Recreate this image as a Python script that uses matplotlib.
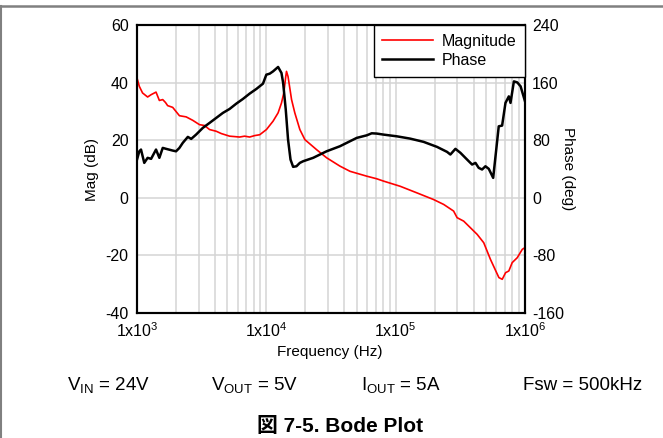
import matplotlib
matplotlib.use("Agg")
import matplotlib.pyplot as plt
from matplotlib.lines import Line2D
from matplotlib.ticker import NullFormatter, LogLocator

plt.rcParams['font.family'] = ['Liberation Sans', 'Noto Sans CJK JP', 'DejaVu Sans']
plt.rcParams['mathtext.fontset'] = 'custom'
plt.rcParams['mathtext.rm'] = 'Liberation Sans'
plt.rcParams['mathtext.it'] = 'Liberation Sans:italic'
plt.rcParams['mathtext.bf'] = 'Liberation Sans:bold'
plt.rcParams['axes.unicode_minus'] = False

# Loop gain magnitude (dB) vs frequency (Hz)
mag_freq = [1000, 1042, 1104, 1208, 1285, 1403, 1489, 1581, 1660, 1726,
            1888, 2128, 2399, 2698, 3041, 3327, 3639, 4102, 4487, 5200,
            6223, 6792, 7430, 8128, 8892, 10020, 11270, 12330, 13090, 13650,
            14130, 14320, 14720, 15670, 16600, 18160, 19860, 24490, 29240, 37070,
            44360, 59840, 71450, 80540, 108400, 146200, 196300, 235000, 280500, 298500,
            335700, 378400, 426600, 479700, 540800, 628100, 666800, 707900, 749900, 796200,
            871000, 952800, 1000000]
mag_db = [41.6, 38.7, 36.4, 35.0, 35.8, 36.7, 33.8, 34.1, 33.1, 32.0,
          31.4, 28.5, 28.1, 26.9, 25.4, 25.1, 23.7, 23.1, 22.3, 21.4,
          21.1, 21.4, 21.1, 21.6, 21.9, 23.7, 26.6, 29.5, 32.9, 36.4,
          42.1, 43.9, 42.1, 34.1, 29.5, 23.7, 20.2, 16.7, 13.9, 11.0,
          9.2, 7.5, 6.6, 5.8, 4.0, 1.7, -0.6, -2.3, -4.6, -6.9,
          -8.1, -10.4, -12.7, -15.6, -21.4, -27.7, -28.3, -26.0, -25.4, -22.5,
          -20.8, -17.9, -17.3]

# Loop gain phase (deg) vs frequency (Hz)
phase_freq = [1000, 1042, 1074, 1138, 1208, 1285, 1403, 1489, 1581, 1679,
              1888, 2004, 2128, 2259, 2472, 2624, 2864, 3228, 3639, 4102,
              4613, 5200, 5861, 6592, 7430, 8375, 9419, 10000, 10620, 11270,
              12330, 13090, 13490, 14130, 14720, 15380, 16110, 17100, 18160, 19280,
              23010, 29240, 37070, 50000, 59840, 65310, 71450, 80350, 102100, 129400,
              164400, 208900, 249500, 264900, 289700, 317000, 345900, 367300, 389900, 414000,
              438500, 465600, 494300, 524800, 567500, 591600, 626600, 665300, 706300, 749900,
              772700, 820400, 871000, 924700, 1000000]
phase_deg = [53.1, 64.6, 67.0, 48.5, 55.5, 54.1, 67.0, 55.5, 69.3, 68.0,
             65.6, 64.6, 69.3, 76.3, 84.6, 81.8, 87.8, 97.1, 104.0, 111.0,
             117.9, 123.4, 130.8, 137.3, 144.7, 151.2, 158.5, 171.0, 172.4, 175.6,
             181.7, 173.4, 159.5, 122.5, 80.9, 53.1, 43.0, 43.8, 48.5, 50.8,
             55.5, 64.6, 71.6, 83.2, 86.8, 89.6, 89.2, 87.8, 85.4, 82.2,
             77.7, 70.7, 63.8, 60.1, 68.0, 62.4, 55.5, 50.8, 46.2, 48.5,
             41.6, 39.3, 43.8, 40.2, 27.7, 57.7, 99.3, 100.3, 131.8, 140.9,
             131.8, 161.7, 160.3, 154.8, 134.0]

x_ticks = [1e3, 1e4, 1e5, 1e6]
x_labels = [r'1x10$^{3}$', r'1x10$^{4}$', r'1x10$^{5}$', r'1x10$^{6}$']
mag_ticks = [-40, -20, 0, 20, 40, 60]
phase_ticks = [-160, -80, 0, 80, 160, 240]

fig = plt.figure(figsize=(6.63, 4.38), dpi=100)
ax = fig.add_axes([137 / 663, 1 - 313 / 438, 388 / 663, 288 / 438])
ax2 = ax.twinx()

ax.set_xscale('log')
ax.set_xlim(1e3, 1e6)
ax.set_ylim(-40, 60)
ax2.set_ylim(-160, 240)

# grid: every decade subdivision on x, major steps on y
ax.xaxis.set_minor_locator(LogLocator(base=10, subs=range(2, 10)))
ax.xaxis.set_minor_formatter(NullFormatter())
ax.grid(True, which='both', axis='x', color='#d4d4d4', lw=1.1)
ax.grid(True, which='major', axis='y', color='#d4d4d4', lw=1.1)
ax.set_axisbelow(True)

l1, = ax.plot(mag_freq, mag_db, color='#ff0000', lw=1.2, label='Magnitude')
l2, = ax2.plot(phase_freq, phase_deg, color='black', lw=1.8, label='Phase')

ax.set_xticks(x_ticks)
ax.set_xticklabels(x_labels)
ax.set_yticks(mag_ticks)
ax2.set_yticks(phase_ticks)
ax.tick_params(which='both', length=0, labelsize=11.5, pad=6)
ax2.tick_params(which='both', length=0, labelsize=11.5, pad=5)

for a in (ax, ax2):
    for sp in a.spines.values():
        sp.set_linewidth(1.5)
        sp.set_color('black')

ax.set_ylabel('Mag (dB)', fontsize=11)
ax.yaxis.set_label_coords(-0.098, 0.5)
ax2.set_ylabel('Phase (deg)', fontsize=11, rotation=270, va='center')
ax2.yaxis.set_label_coords(1.111, 0.5)
ax.set_xlabel('Frequency (Hz)', fontsize=11)
ax.xaxis.set_label_coords(0.497, -0.112)

leg = ax2.legend(handles=[l1, l2], loc='upper right', fontsize=11.5,
                 borderaxespad=0, fancybox=False, framealpha=1,
                 edgecolor='black', handlelength=3.2, handletextpad=0.5,
                 labelspacing=0.25, borderpad=0.55)
leg.get_frame().set_linewidth(1.0)

# operating conditions under the plot
y_cond = 1 - 385 / 438
fig.text(108 / 663, y_cond, r'V$_{\mathrm{IN}}$ = 24V', ha='center', va='center', fontsize=13.5)
fig.text(255 / 663, y_cond, r'V$_{\mathrm{OUT}}$ = 5V', ha='center', va='center', fontsize=13.5)
fig.text(401 / 663, y_cond, r'I$_{\mathrm{OUT}}$ = 5A', ha='center', va='center', fontsize=13.5)
fig.text(583 / 663, y_cond, 'Fsw = 500kHz', ha='center', va='center', fontsize=13.5)

fig.text(340 / 663, 1 - 426 / 438, '図 7-5. Bode Plot', ha='center', va='center',
         fontsize=15, fontweight='bold')

# thin frame on the top and left edges
fig.add_artist(Line2D([0, 1], [1 - 5.5 / 438, 1 - 5.5 / 438], color='#808080', lw=1.8))
fig.add_artist(Line2D([0.5 / 663, 0.5 / 663], [0, 1 - 5.5 / 438], color='#808080', lw=1.5))

fig.savefig('out.png', dpi=100)
